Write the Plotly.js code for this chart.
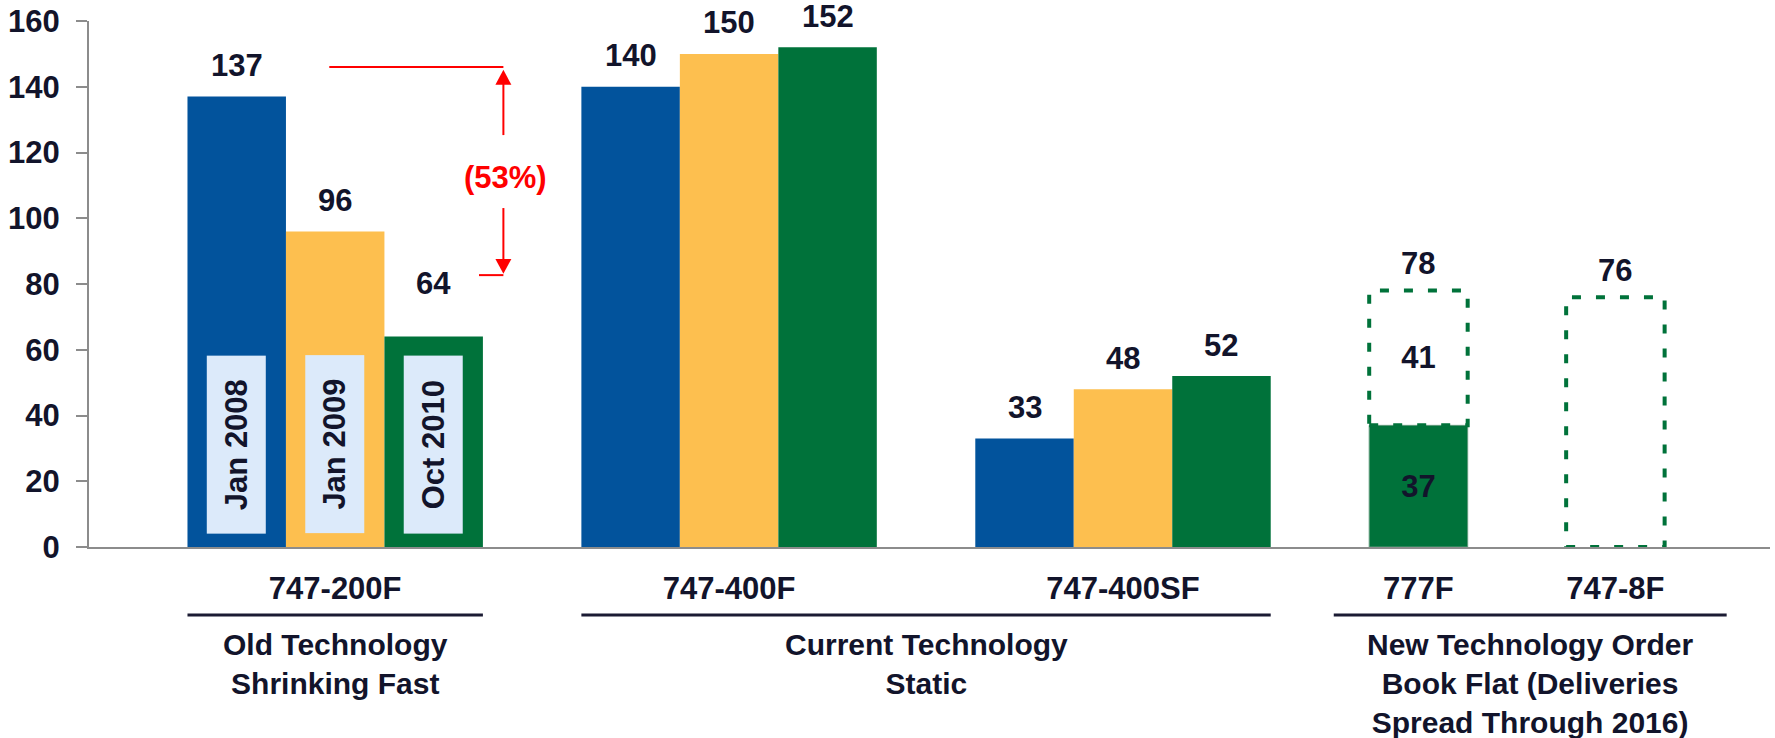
<!DOCTYPE html>
<html><head><meta charset="utf-8">
<script src="https://cdn.plot.ly/plotly-3.0.1.min.js"></script>
<style>html,body{margin:0;padding:0;background:#fff}#chart{width:1775px;height:738px}</style>
</head><body><div id="chart"></div>
<script>
// ---------- data ----------
const categories = ['747-200F', '747-400F', '747-400SF', '777F', '747-8F'];
const seriesNames = ['Jan 2008', 'Jan 2009', 'Oct 2010'];
const jan2008 = [137, 140, 33];
const jan2009 = [96, 150, 48];
const oct2010 = [64, 152, 52];
const f777Delivered = [37];
const f777Remaining = [41];
const f7478Backlog = [76];
const groupLabels = ['Old Technology<br>Shrinking Fast',
                     'Current Technology<br>Static',
                     'New Technology Order<br>Book Flat (Deliveries<br>Spread Through 2016)'];
const changeLabel = '(53%)';
const yTickValues = [0, 20, 40, 60, 80, 100, 120, 140, 160];

// ---------- layout / style ----------
const catPos = [2.5, 6.5, 10.5, 13.5, 15.5];
const seriesOffset = [-1.5, -0.5, 0.5];
const groupSpans = [[1, 4], [5, 12], [12.64, 16.63]];
const colors = ['#02539c', '#fdbf4f', '#00723a'];
const boxFill = '#dceafa';
const ink = '#12142b';
const red = '#ff0000';
const axisGray = '#8c8c8c';
const FONT = 'Liberation Sans, Arial, Helvetica, sans-serif';
const FS = 31;
const labelShift = 31;

const series = [jan2008, jan2009, oct2010];
const traces = [];
const annotations = [];
const shapes = [];

series.forEach((vals, i) => {
  const xs = catPos.slice(0, vals.length);
  traces.push({
    type: 'bar', name: seriesNames[i], x: xs, y: vals,
    width: 1, offset: seriesOffset[i],
    marker: {color: colors[i], line: {width: 0}},
    hoverinfo: 'name+y'
  });
  vals.forEach((v, j) => {
    const extra = (i === 2 && j === 0) ? 22 : 0;
    annotations.push({
      xref: 'x', yref: 'y', x: xs[j] + seriesOffset[i] + 0.5, y: v,
      text: String(v), showarrow: false, yanchor: 'middle', yshift: labelShift + extra,
      font: {family: FONT, size: FS, color: ink, weight: 'bold'}
    });
  });
});

// date tags inside the 747-200F bars
seriesNames.forEach((nm, i) => {
  annotations.push({
    xref: 'x', yref: 'y', x: catPos[0] + seriesOffset[i] + 0.5, y: 31.2,
    text: nm, textangle: -90, showarrow: false,
    width: 177, height: 58, bgcolor: boxFill, borderpad: 0,
    xanchor: 'center', yanchor: 'middle', align: 'center', valign: 'middle',
    font: {family: FONT, size: FS, color: ink, weight: 'bold'}
  });
});

// 777F: delivered (solid) + remaining (dashed)
traces.push({
  type: 'bar', name: '777F delivered', x: [catPos[3]], y: f777Delivered,
  width: 1, offset: -0.5, marker: {color: colors[2], line: {width: 1, color: '#5f9a7a'}},
  text: f777Delivered.map(String), textposition: 'inside', insidetextanchor: 'middle',
  textfont: {family: FONT, size: FS, color: ink, weight: 'bold'}, hoverinfo: 'y'
});
traces.push({
  type: 'bar', name: '777F remaining', x: [catPos[3]], y: f777Remaining, base: f777Delivered,
  width: 1, offset: -0.5, marker: {color: 'rgba(0,0,0,0)', line: {width: 0}},
  text: f777Remaining.map(String), textposition: 'inside', insidetextanchor: 'middle',
  textfont: {family: FONT, size: FS, color: ink, weight: 'bold'}, hoverinfo: 'y'
});
traces.push({
  type: 'bar', name: '747-8F', x: [catPos[4]], y: f7478Backlog,
  width: 1, offset: -0.5, marker: {color: 'rgba(0,0,0,0)', line: {width: 0}}, hoverinfo: 'y'
});
const dashLine = {color: colors[2], width: 4, dash: '9px,15px'};
shapes.push({type: 'rect', xref: 'x', yref: 'y', x0: catPos[3] - 0.5, x1: catPos[3] + 0.5,
  y0: f777Delivered[0], y1: f777Delivered[0] + f777Remaining[0], line: dashLine});
shapes.push({type: 'rect', xref: 'x', yref: 'y', x0: catPos[4] - 0.5, x1: catPos[4] + 0.5,
  y0: 0, y1: f7478Backlog[0], line: dashLine});
[[catPos[3], f777Delivered[0] + f777Remaining[0]], [catPos[4], f7478Backlog[0]]].forEach(([x, v]) => {
  annotations.push({xref: 'x', yref: 'y', x: x, y: v, text: String(v), showarrow: false,
    yanchor: 'middle', yshift: labelShift - 4, font: {family: FONT, size: FS, color: ink, weight: 'bold'}});
});

// group brackets and labels
groupSpans.forEach((s, k) => {
  shapes.push({type: 'line', xref: 'x', yref: 'paper', x0: s[0], x1: s[1], y0: -0.1293, y1: -0.1293,
    line: {color: '#1b1b33', width: 3}});
  annotations.push({xref: 'x', yref: 'paper', x: (s[0] + s[1]) / 2, y: -0.150, yanchor: 'top',
    text: groupLabels[k], showarrow: false, align: 'center',
    font: {family: FONT, size: 30, color: ink, weight: 'bold'}});
});

// red change bracket
const ax = 4.208, hw = 0.081;
shapes.push({type: 'line', xref: 'x', yref: 'y', x0: 2.44, x1: ax, y0: 146, y1: 146, line: {color: red, width: 2}});
shapes.push({type: 'line', xref: 'x', yref: 'y', x0: 3.96, x1: ax, y0: 82.7, y1: 82.7, line: {color: red, width: 2}});
shapes.push({type: 'line', xref: 'x', yref: 'y', x0: ax, x1: ax, y0: 125.3, y1: 141, line: {color: red, width: 2}});
shapes.push({type: 'line', xref: 'x', yref: 'y', x0: ax, x1: ax, y0: 103.1, y1: 87.2, line: {color: red, width: 2}});
shapes.push({type: 'path', xref: 'x', yref: 'y', path: `M ${ax - hw},140.6 L ${ax + hw},140.6 L ${ax},145.2 Z`,
  fillcolor: red, line: {width: 0}});
shapes.push({type: 'path', xref: 'x', yref: 'y', path: `M ${ax - hw},87.6 L ${ax + hw},87.6 L ${ax},83.1 Z`,
  fillcolor: red, line: {width: 0}});
annotations.push({xref: 'x', yref: 'y', x: 4.23, y: 112.5, text: changeLabel, showarrow: false,
  font: {family: FONT, size: FS, color: red, weight: 'bold'}});

const layout = {
  width: 1775, height: 738,
  margin: {l: 89, r: 5, t: 21, b: 191},
  paper_bgcolor: '#ffffff', plot_bgcolor: '#ffffff',
  showlegend: false, barmode: 'overlay',
  font: {family: FONT, color: ink},
  xaxis: {
    range: [0, 17.07], showgrid: false, zeroline: false,
    showline: true, linecolor: axisGray, linewidth: 2,
    tickmode: 'array', tickvals: catPos, ticktext: categories, ticks: '',
    ticklabelstandoff: 13,
    tickfont: {family: FONT, size: FS, color: ink, weight: 'bold'}
  },
  yaxis: {
    range: [0, 160], showgrid: false, zeroline: false,
    showline: true, linecolor: axisGray, linewidth: 2,
    tickmode: 'array', tickvals: yTickValues, ticks: 'outside', ticklen: 11,
    tickcolor: axisGray, tickwidth: 2, ticklabelstandoff: 10,
    tickfont: {family: FONT, size: FS, color: ink, weight: 'bold'}
  },
  shapes: shapes,
  annotations: annotations
};

Plotly.newPlot('chart', traces, layout, {displayModeBar: false, staticPlot: true});
</script>
</body></html>
